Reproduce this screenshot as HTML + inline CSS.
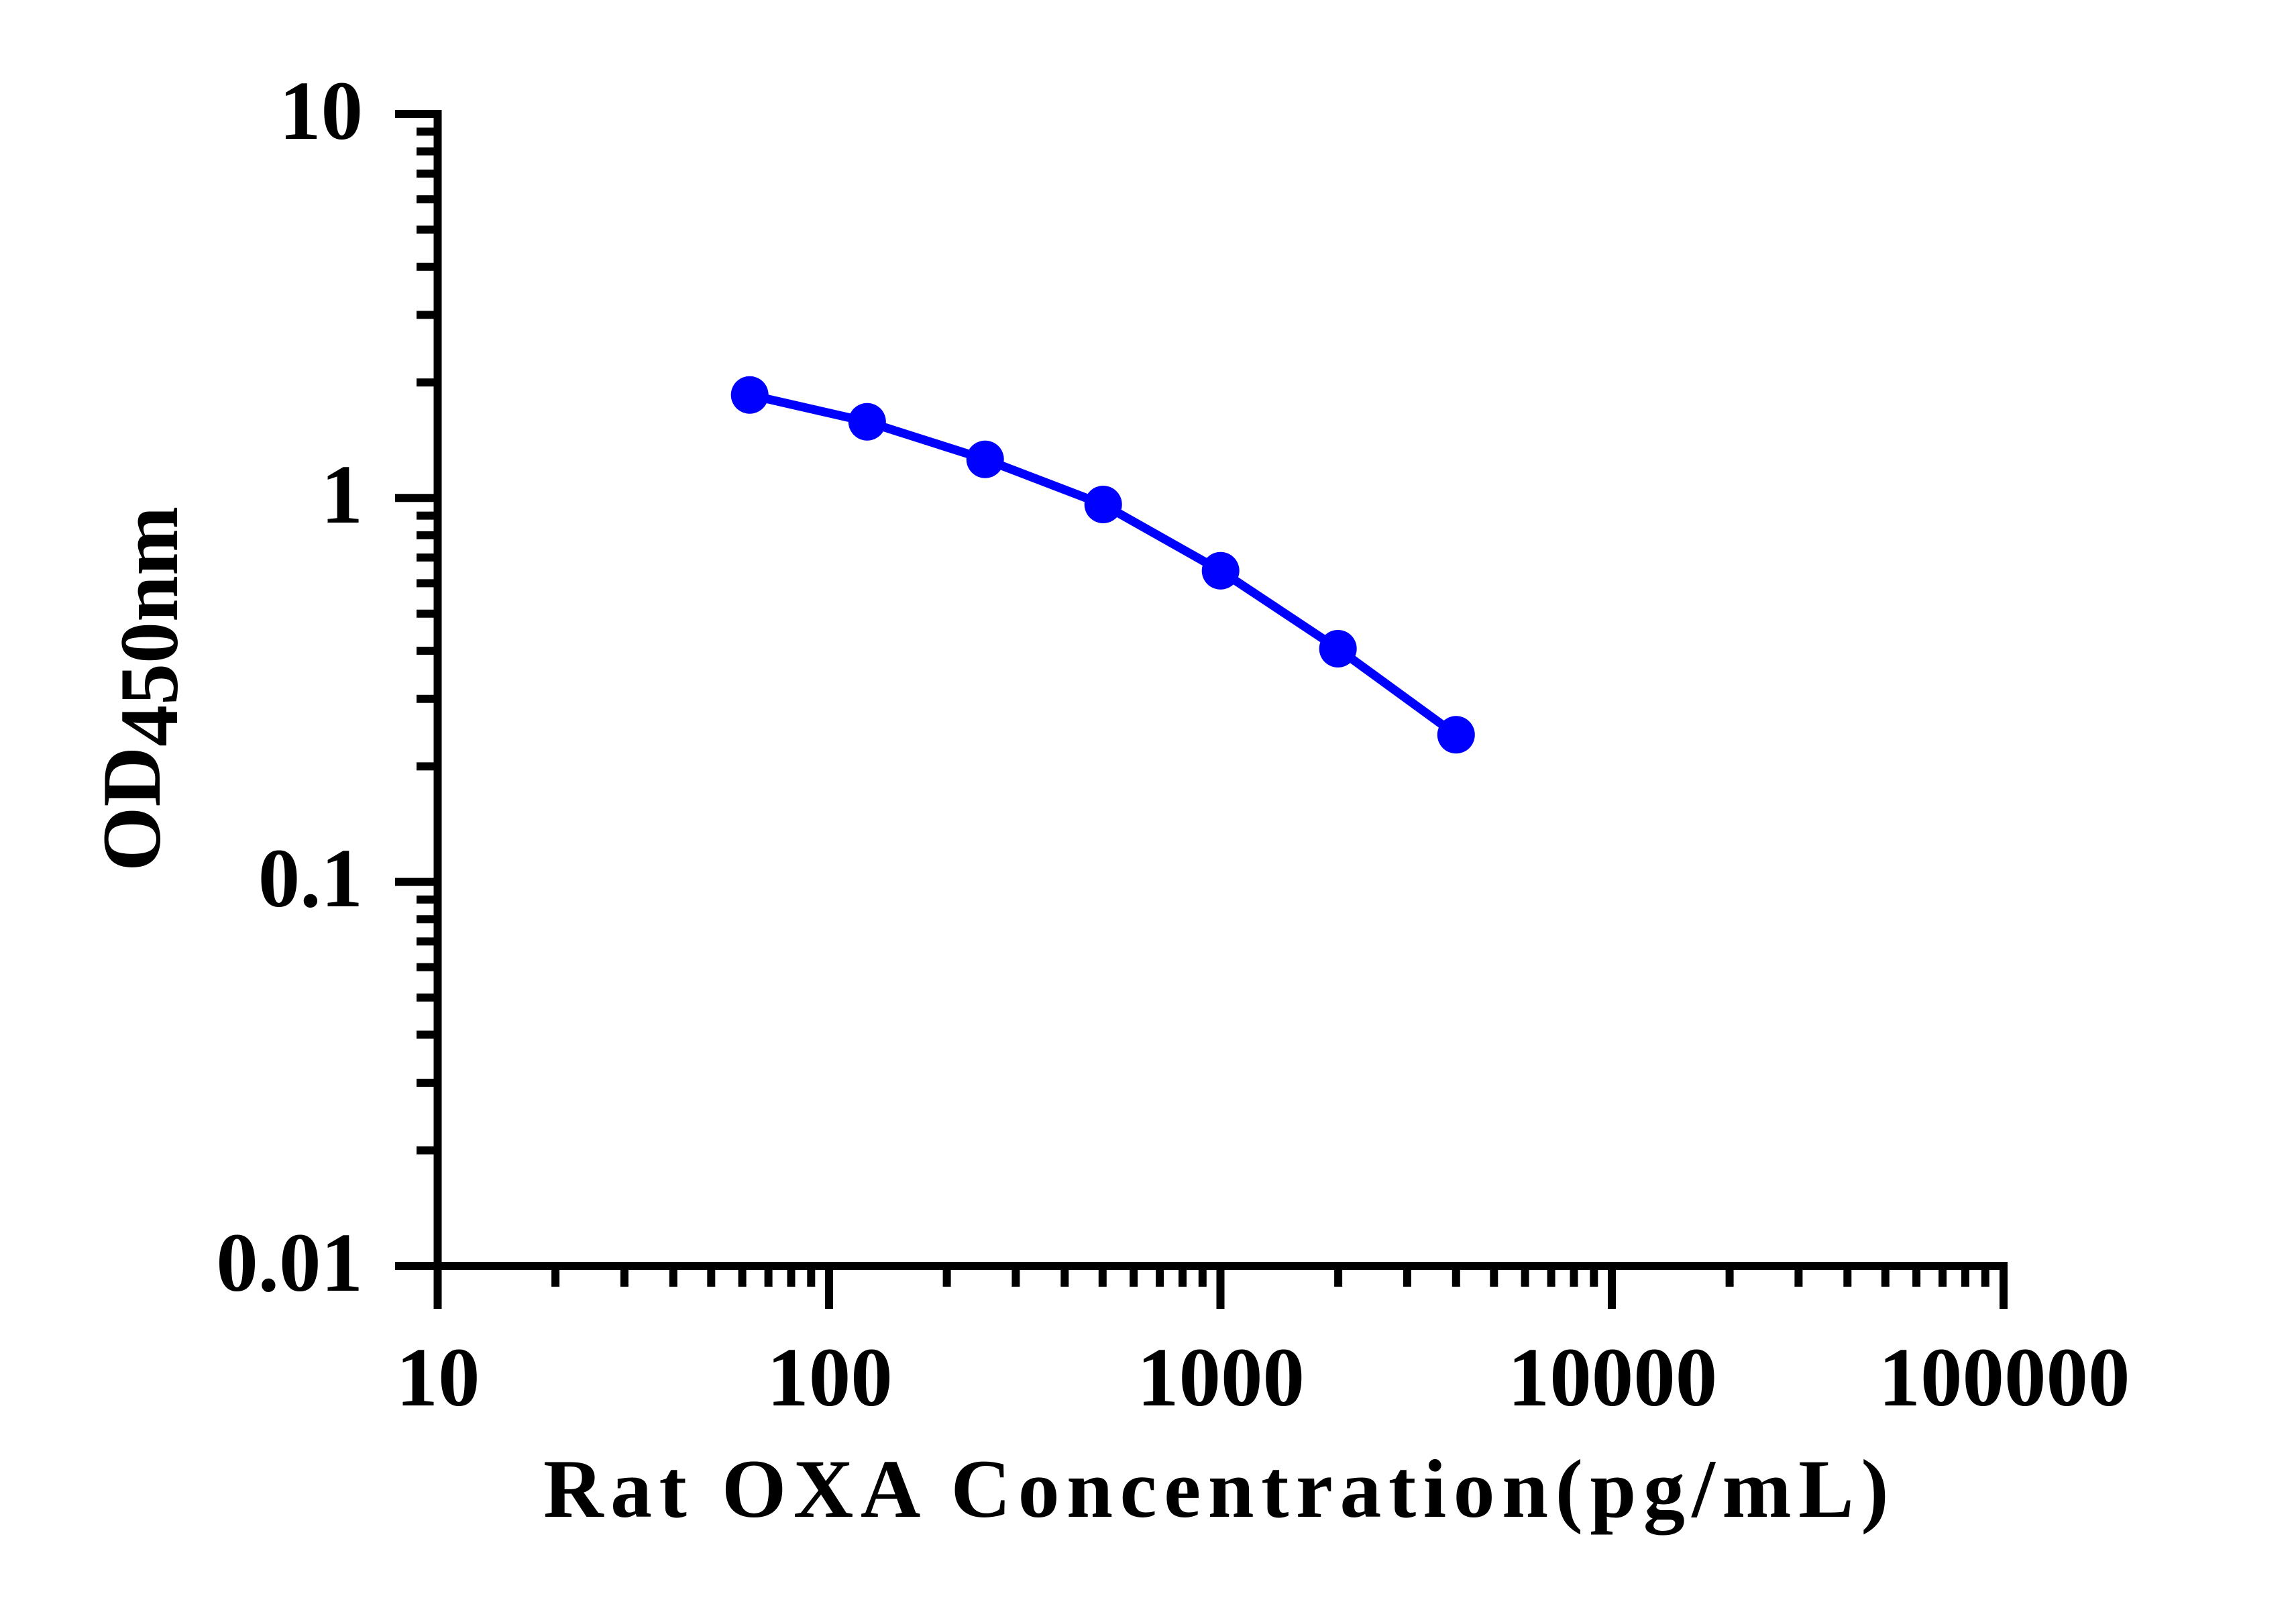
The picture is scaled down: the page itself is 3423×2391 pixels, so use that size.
<!DOCTYPE html>
<html>
<head>
<meta charset="utf-8">
<style>
  html, body { margin: 0; padding: 0; background: #ffffff; }
  svg { display: block; }
  text { font-family: "Liberation Serif", "Times New Roman", serif; font-weight: bold; fill: #000; }
</style>
</head>
<body>
<svg xmlns="http://www.w3.org/2000/svg" width="3423" height="2391" viewBox="0 0 3423 2391">
  <rect x="0" y="0" width="3423" height="2391" fill="#ffffff"/>
  <g stroke="#000" stroke-width="12" stroke-linecap="butt" fill="none">
    <!-- Y axis line -->
    <line x1="652.5" y1="164" x2="652.5" y2="1951"/>
    <!-- X axis line -->
    <line x1="589" y1="1887" x2="2993" y2="1887"/>
    <!-- Y major ticks -->
    <line x1="589" y1="170" x2="653" y2="170"/>
    <line x1="589" y1="742.3" x2="653" y2="742.3"/>
    <line x1="589" y1="1314.6" x2="653" y2="1314.6"/>
    <!-- Y minor ticks -->
    <g id="ymin">
      <line x1="621" y1="1714.7" x2="653" y2="1714.7"/>
      <line x1="621" y1="1614.0" x2="653" y2="1614.0"/>
      <line x1="621" y1="1542.4" x2="653" y2="1542.4"/>
      <line x1="621" y1="1487.0" x2="653" y2="1487.0"/>
      <line x1="621" y1="1441.7" x2="653" y2="1441.7"/>
      <line x1="621" y1="1403.4" x2="653" y2="1403.4"/>
      <line x1="621" y1="1370.2" x2="653" y2="1370.2"/>
      <line x1="621" y1="1340.9" x2="653" y2="1340.9"/>
    </g>
    <use href="#ymin" transform="translate(0,-572.3)"/>
    <use href="#ymin" transform="translate(0,-1144.6)"/>
    <!-- X major ticks -->
    <line x1="652.5" y1="1887" x2="652.5" y2="1951"/>
    <line x1="1236" y1="1887" x2="1236" y2="1951"/>
    <line x1="1819.5" y1="1887" x2="1819.5" y2="1951"/>
    <line x1="2403" y1="1887" x2="2403" y2="1951"/>
    <line x1="2987" y1="1887" x2="2987" y2="1951"/>
    <!-- X minor ticks -->
    <g id="xmin">
      <line x1="828.1" y1="1887" x2="828.1" y2="1918"/>
      <line x1="930.9" y1="1887" x2="930.9" y2="1918"/>
      <line x1="1003.8" y1="1887" x2="1003.8" y2="1918"/>
      <line x1="1060.3" y1="1887" x2="1060.3" y2="1918"/>
      <line x1="1106.6" y1="1887" x2="1106.6" y2="1918"/>
      <line x1="1145.6" y1="1887" x2="1145.6" y2="1918"/>
      <line x1="1179.5" y1="1887" x2="1179.5" y2="1918"/>
      <line x1="1209.3" y1="1887" x2="1209.3" y2="1918"/>
    </g>
    <use href="#xmin" transform="translate(583.5,0)"/>
    <use href="#xmin" transform="translate(1167,0)"/>
    <use href="#xmin" transform="translate(1750.5,0)"/>
  </g>

  <!-- Y tick labels -->
  <g font-size="125" text-anchor="end">
    <text x="541" y="207">10</text>
    <text x="541" y="779">1</text>
    <text x="541" y="1351">0.1</text>
    <text x="541" y="1924">0.01</text>
  </g>
  <!-- X tick labels -->
  <g font-size="125" text-anchor="middle">
    <text x="653" y="2095">10</text>
    <text x="1237" y="2095">100</text>
    <text x="1820" y="2095">1000</text>
    <text x="2404" y="2095">10000</text>
    <text x="2988" y="2095">100000</text>
  </g>

  <!-- Axis titles -->
  <text x="810" y="2261" font-size="124" letter-spacing="10.5">Rat OXA Concentration(pg/mL)</text>
  <text transform="translate(238,1299) rotate(-90)" font-size="124">OD<tspan dy="26">450nm</tspan></text>

  <!-- Series -->
  <polyline fill="none" stroke="#0000ff" stroke-width="13" stroke-linejoin="round"
    points="1117.7,588.7 1292.8,628.7 1468.7,684.7 1644.7,752 1819.7,850.8 1994.7,967 2170.8,1095.3"/>
  <g fill="#0000ff">
    <circle cx="1117.7" cy="588.7" r="28"/>
    <circle cx="1292.8" cy="628.7" r="28"/>
    <circle cx="1468.7" cy="684.7" r="28"/>
    <circle cx="1644.7" cy="752" r="28"/>
    <circle cx="1819.7" cy="850.8" r="28"/>
    <circle cx="1994.7" cy="967" r="28"/>
    <circle cx="2170.8" cy="1095.3" r="28"/>
  </g>
</svg>
</body>
</html>
